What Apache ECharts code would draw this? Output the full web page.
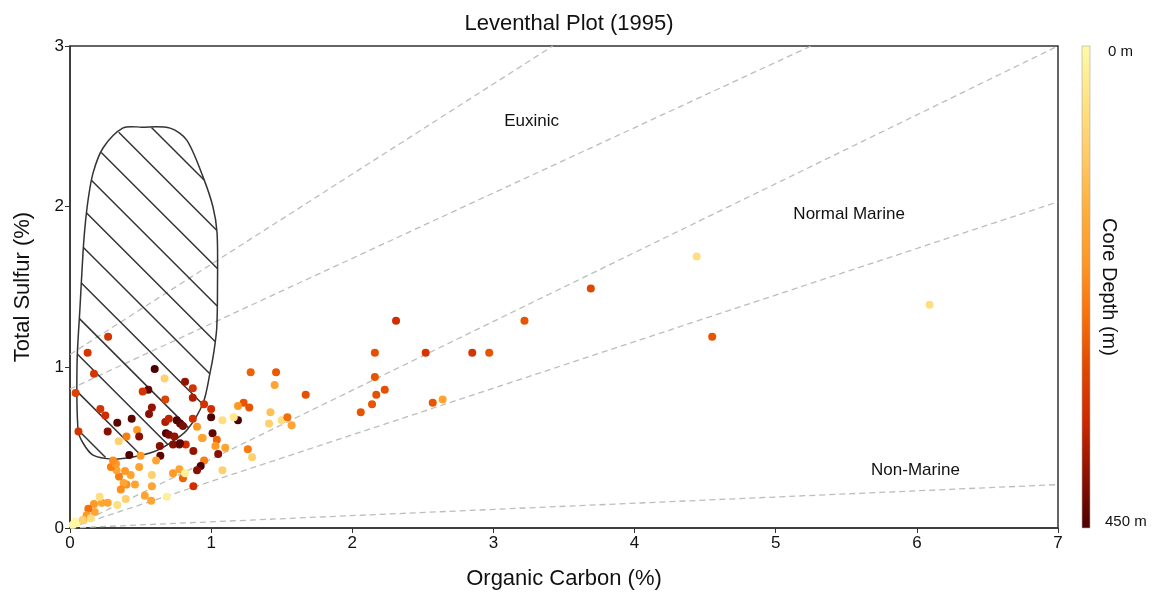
<!DOCTYPE html>
<html>
<head>
<meta charset="utf-8">
<title>Leventhal Plot (1995)</title>
<script src="https://cdn.jsdelivr.net/npm/echarts@6/dist/echarts.min.js"></script>
<style>
html, body { margin: 0; padding: 0; background: #fff; }
#chart { width: 1158px; height: 603px; }
</style>
</head>
<body>
<div id="chart"></div>
<script>
// samples: organic carbon (%), total sulfur (%), core depth (m)
const carbon = [
  4.44, 6.09, 4.55, 3.69, 3.22, 2.97, 2.85, 2.52, 2.31, 2.16,
  2.16, 2.23, 2.17, 2.14, 2.06, 2.57, 2.64, 1.67, 1.28, 1.46,
  1.45, 1.23, 1.27, 1.19, 1.42, 1.41, 1.50, 1.54, 1.57, 1.19,
  1.08, 1.16, 1.00, 0.95, 1.00, 1.01, 1.04, 1.03, 1.10, 0.94,
  1.26, 0.27, 0.125, 0.17, 0.04, 0.06, 0.60, 0.67, 0.815, 0.87,
  0.87, 0.555, 0.515, 0.675, 0.58, 0.56, 0.215, 0.25, 0.335, 0.437,
  0.267, 0.475, 0.49, 0.40, 0.345, 0.675, 0.70, 0.756, 0.78, 0.80,
  0.68, 0.70, 0.74, 0.73, 0.775, 0.82, 0.636, 0.90, 0.935, 0.87,
  1.05, 0.874, 0.95, 0.926, 0.90, 0.874, 1.08, 1.29, 0.73, 0.775,
  0.80, 0.815, 0.64, 0.61, 0.50, 0.42, 0.49, 0.58, 0.53, 0.575,
  0.685, 0.46, 0.40, 0.38, 0.36, 0.43, 0.347, 0.33, 0.39, 0.29,
  0.326, 0.305, 0.395, 0.267, 0.225, 0.21, 0.17, 0.175, 0.13, 0.118,
  0.094, 0.035, 0.047, 0.147, 0.335, 0.58, 0.78, 0.02, 0.09
]
const sulfur = [
  1.69, 1.39, 1.19, 1.49, 1.29, 1.09, 1.09, 1.09, 1.29, 1.09,
  0.94, 0.86, 0.83, 0.77, 0.72, 0.78, 0.80, 0.83, 0.97, 0.97,
  0.89, 0.78, 0.75, 0.76, 0.72, 0.65, 0.67, 0.69, 0.64, 0.67,
  0.67, 0.69, 0.74, 0.77, 0.69, 0.59, 0.55, 0.51, 0.50, 0.56,
  0.49, 1.19, 1.09, 0.96, 0.84, 0.60, 0.99, 0.93, 0.91, 0.87,
  0.81, 0.86, 0.85, 0.80, 0.75, 0.71, 0.74, 0.70, 0.655, 0.68,
  0.60, 0.61, 0.57, 0.57, 0.54, 0.66, 0.68, 0.67, 0.65, 0.635,
  0.59, 0.58, 0.57, 0.52, 0.52, 0.52, 0.51, 0.63, 0.56, 0.68,
  0.46, 0.48, 0.42, 0.386, 0.36, 0.26, 0.36, 0.44, 0.34, 0.365,
  0.31, 0.34, 0.45, 0.42, 0.45, 0.455, 0.38, 0.26, 0.20, 0.17,
  0.195, 0.27, 0.27, 0.28, 0.24, 0.33, 0.32, 0.36, 0.355, 0.38,
  0.40, 0.42, 0.18, 0.157, 0.157, 0.195, 0.15, 0.10, 0.12, 0.08,
  0.05, 0.04, 0.03, 0.06, 0.143, 0.33, 0.527, 0.02, 0.05
]
const depth = [
  60, 60, 285, 300, 285, 285, 330, 330, 340, 290,
  285, 290, 290, 285, 285, 285, 175, 290, 270, 280,
  175, 285, 285, 195, 120, 90, 60, 255, 175, 448,
  60, 40, 340, 330, 448, 435, 270, 195, 175, 175,
  240, 330, 330, 330, 310, 330, 448, 90, 395, 330,
  375, 435, 330, 310, 395, 405, 330, 340, 435, 435,
  405, 195, 405, 235, 90, 375, 360, 448, 435, 415,
  448, 415, 395, 405, 415, 340, 405, 195, 175, 340,
  405, 395, 235, 448, 405, 340, 90, 90, 195, 175,
  270, 25, 435, 175, 195, 448, 175, 175, 175, 175,
  25, 175, 215, 175, 215, 175, 235, 175, 195, 235,
  195, 215, 90, 175, 175, 60, 195, 175, 255, 195,
  175, 5, 5, 60, 60, 90, 435, 5, 90
]

// dashed reference lines, [C, S] end points
const line1 = [[0, 1.08], [3.42, 3]]
const line2 = [[0, 0.865], [5.25, 3]]
const line3 = [[0, 0], [7, 3]]
const line4 = [[0, 0], [7, 2.03]]
const line5 = [[0, 0], [7, 0.27]]

// field labels
const fieldNames = ['Euxinic', 'Normal Marine', 'Non-Marine']
const fieldX = [3.27, 5.52, 5.99]
const fieldY = [2.53, 1.95, 0.36]

// hatched outline (C, S)
const zoneC = [0.376, 0.508, 0.709, 0.827, 0.943, 1.013, 1.042, 1.045, 1.040, 1.020, 0.992, 0.943,
  0.829, 0.709, 0.588, 0.446, 0.305, 0.163, 0.092, 0.057, 0.050, 0.071,
  0.092, 0.106, 0.128, 0.163, 0.234]
const zoneS = [2.490, 2.495, 2.489, 2.414, 2.184, 1.998, 1.836, 1.500, 1.250, 1.100, 0.965, 0.778,
  0.610, 0.529, 0.473, 0.442, 0.429, 0.454, 0.529, 0.610, 1.027, 1.375,
  1.711, 1.873, 2.041, 2.209, 2.365]

const xTicks = ['0', '1', '2', '3', '4', '5', '6', '7']
const yTicks = ['0', '1', '2', '3']

const depthColors = ['#fffaa8', '#ffe385', '#ffcc68', '#ffb03c', '#ff9824',
  '#f87208', '#e04800', '#cc2800', '#8e1200', '#4a0000']

const font = "'Liberation Sans', Arial, sans-serif"

function renderZone (params, api) {
  const pts = zoneC.map((c, i) => api.coord([c, zoneS[i]]))
  const o = api.coord([0, 0])
  const children = [{
    type: 'polygon',
    shape: { points: pts, smooth: 0.3 },
    style: { fill: 'none', stroke: '#333', lineWidth: 1.5 }
  }]
  const base = (o[1] - o[0]) - 482
  for (let k = 0; k < 14; k++) {
    const c = base + k * 37.6
    const xs = []
    for (let i = 0; i < pts.length; i++) {
      const p = pts[i]
      const q = pts[(i + 1) % pts.length]
      const fp = p[1] - p[0] - c
      const fq = q[1] - q[0] - c
      if ((fp < 0) !== (fq < 0)) {
        const t = fp / (fp - fq)
        xs.push(p[0] + t * (q[0] - p[0]))
      }
    }
    xs.sort((a, b) => a - b)
    for (let j = 0; j + 1 < xs.length; j += 2) {
      children.push({
        type: 'line',
        shape: { x1: xs[j], y1: xs[j] + c, x2: xs[j + 1], y2: xs[j + 1] + c },
        style: { stroke: '#333', lineWidth: 1.5 }
      })
    }
  }
  return { type: 'group', children }
}

function dashed (data) {
  return {
    type: 'line',
    data: data,
    symbol: 'none',
    silent: true,
    z: 1,
    lineStyle: { color: '#bdbdbd', width: 1.3, type: [6, 4] }
  }
}

const chart = echarts.init(document.getElementById('chart'))

const option = {
  animation: false,
  textStyle: { fontFamily: font },
  title: {
    text: 'Leventhal Plot (1995)',
    left: 564,
    textAlign: 'center',
    top: 8,
    textStyle: { fontSize: 22, fontWeight: 'normal', color: '#111', fontFamily: font }
  },
  grid: {
    left: 70,
    right: 100,
    top: 46,
    bottom: 75,
    show: true,
    borderColor: '#333',
    borderWidth: 1.5
  },
  xAxis: {
    type: 'value',
    min: 0,
    max: 7,
    interval: 1,
    name: 'Organic Carbon (%)',
    nameLocation: 'middle',
    nameGap: 40,
    nameTextStyle: { fontSize: 22, color: '#111', fontFamily: font },
    axisLine: { show: true, lineStyle: { color: '#333', width: 1.5 } },
    axisTick: { show: true, length: 5, lineStyle: { color: '#333' } },
    axisLabel: {
      fontSize: 17,
      color: '#111',
      margin: 7,
      formatter: (v) => xTicks[Math.round(v)]
    },
    splitLine: { show: false }
  },
  yAxis: {
    type: 'value',
    min: 0,
    max: 3,
    interval: 1,
    name: 'Total Sulfur (%)',
    nameLocation: 'middle',
    nameGap: 36,
    nameTextStyle: { fontSize: 22, color: '#111', fontFamily: font },
    axisLine: { show: true, lineStyle: { color: '#333', width: 1.5 } },
    axisTick: { show: true, length: 5, lineStyle: { color: '#333' } },
    axisLabel: {
      fontSize: 17,
      color: '#111',
      margin: 6,
      formatter: (v) => yTicks[Math.round(v)]
    },
    splitLine: { show: false }
  },
  visualMap: {
    type: 'continuous',
    show: false,
    min: 0,
    max: 450,
    dimension: 2,
    seriesIndex: 0,
    inRange: { color: depthColors }
  },
  graphic: [
    {
      type: 'rect',
      shape: { x: 1082, y: 46, width: 8, height: 482 },
      style: {
        fill: new echarts.graphic.LinearGradient(0, 0, 0, 1,
          depthColors.map((c, i) => ({ offset: i / (depthColors.length - 1), color: c }))),
        stroke: '#aaa',
        lineWidth: 0.6
      }
    },
    {
      type: 'text',
      x: 1108,
      y: 52,
      style: { text: '0 m', fontSize: 15, fill: '#111', font: '15px ' + font, verticalAlign: 'middle' }
    },
    {
      type: 'text',
      x: 1105,
      y: 522,
      style: { text: '450 m', fontSize: 15, fill: '#111', font: '15px ' + font, verticalAlign: 'middle' }
    },
    {
      type: 'text',
      x: 1109,
      y: 287,
      rotation: -Math.PI / 2,
      style: {
        text: 'Core Depth (m)',
        font: '20px ' + font,
        fill: '#111',
        align: 'center',
        verticalAlign: 'middle'
      }
    }
  ],
  series: [
    {
      type: 'scatter',
      symbolSize: 8,
      z: 5,
      itemStyle: { opacity: 1 },
      data: carbon.map((c, i) => [c, sulfur[i], depth[i]])
    },
    dashed(line1),
    dashed(line2),
    dashed(line3),
    dashed(line4),
    dashed(line5),
    {
      type: 'custom',
      renderItem: renderZone,
      data: [[0.5, 1.5]],
      z: 3,
      silent: true
    },
    {
      type: 'scatter',
      symbolSize: 1,
      itemStyle: { color: 'rgba(0,0,0,0)', opacity: 1 },
      silent: true,
      z: 4,
      label: {
        show: true,
        position: 'inside',
        fontSize: 17,
        color: '#111',
        opacity: 1,
        fontFamily: font,
        formatter: (p) => p.name
      },
      data: fieldNames.map((n, i) => ({ name: n, value: [fieldX[i], fieldY[i]] }))
    }
  ]
}

chart.setOption(option)
window.addEventListener('resize', () => chart.resize())
</script>
</body>
</html>
